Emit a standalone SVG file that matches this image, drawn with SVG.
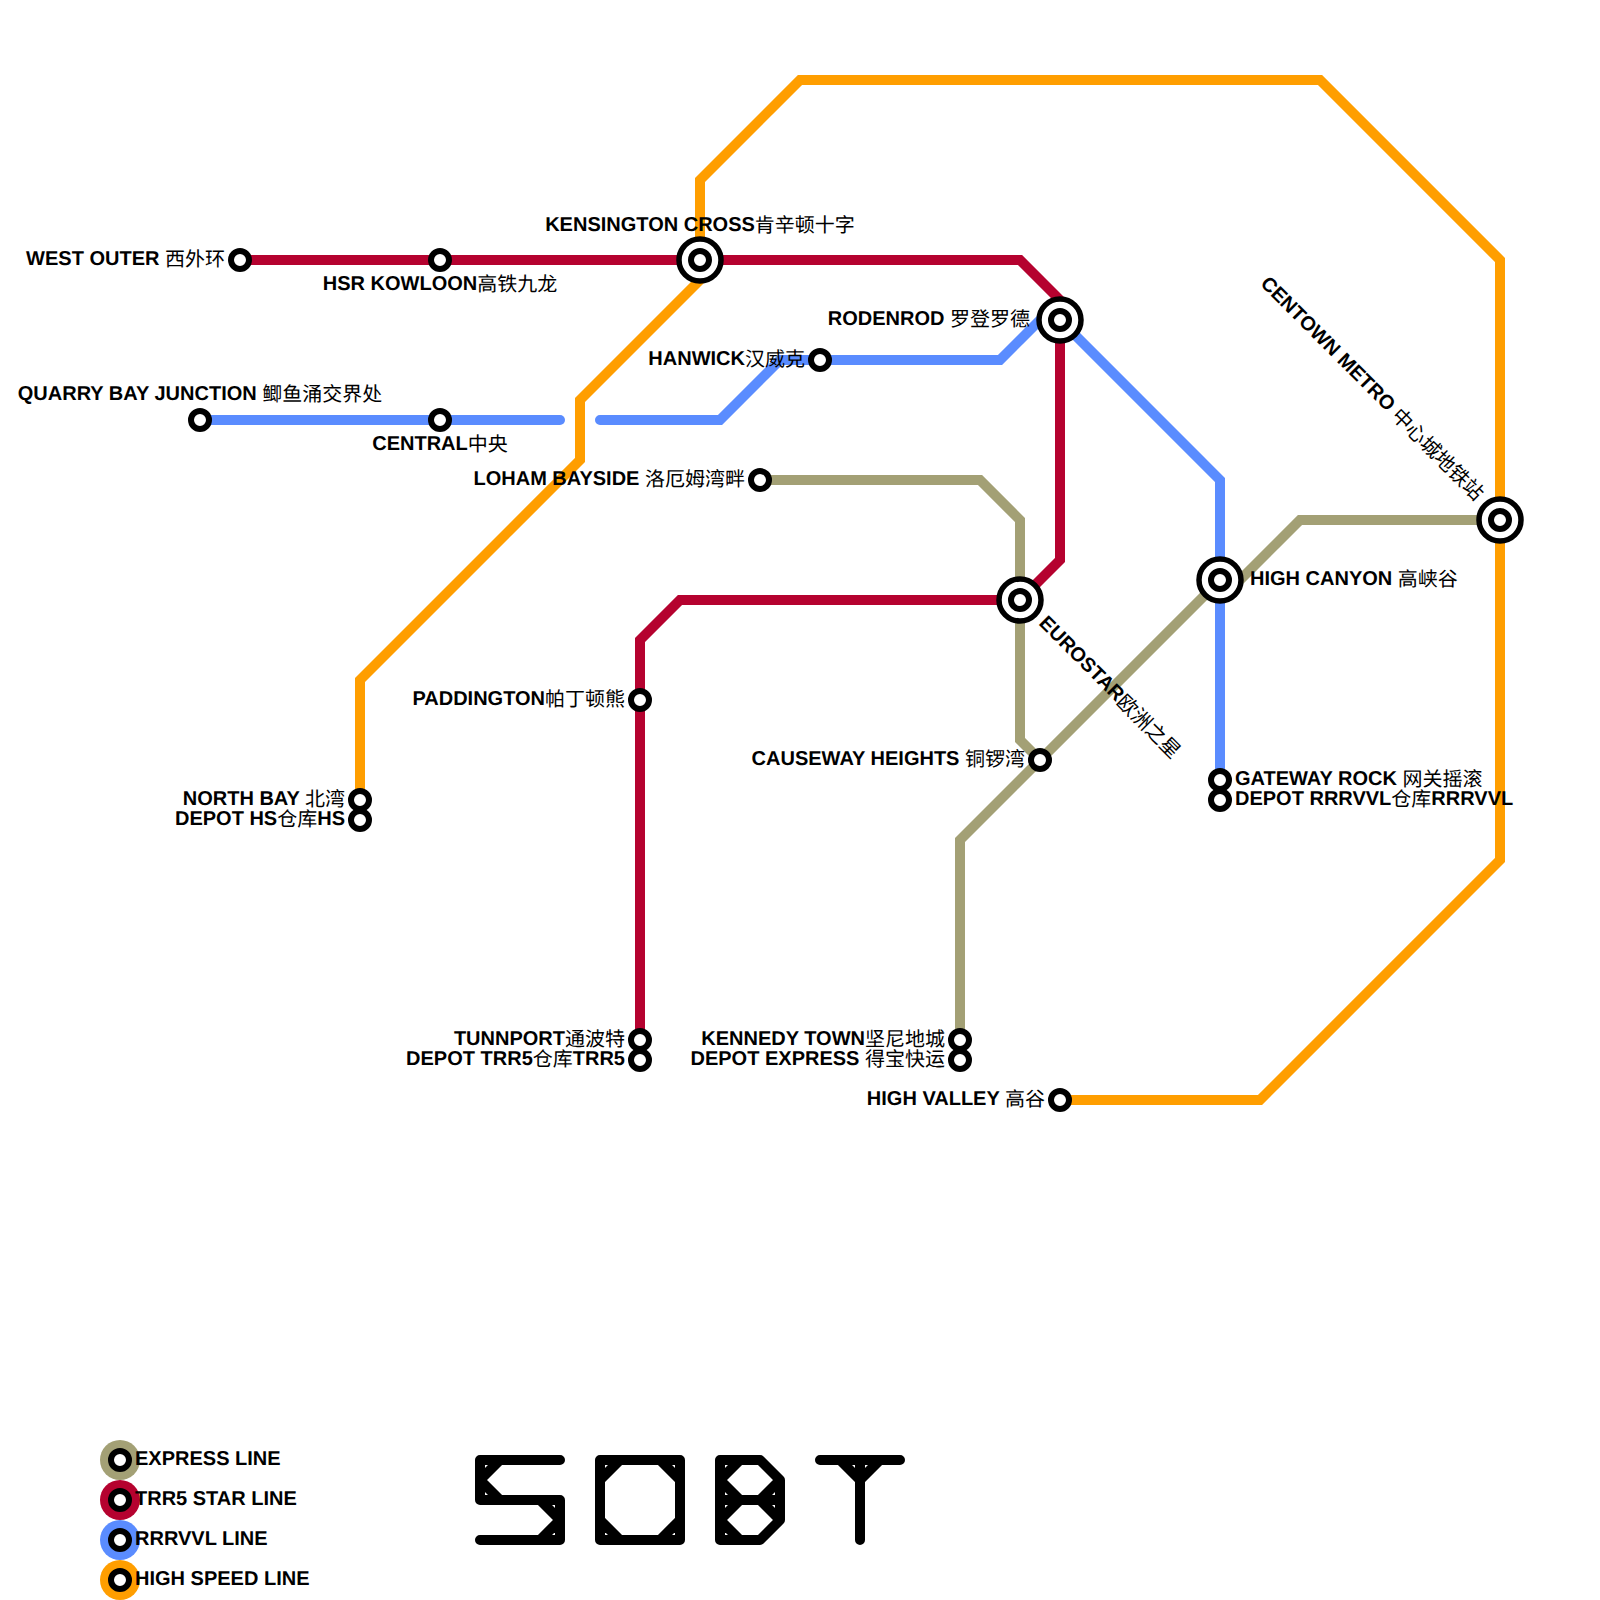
<svg xmlns="http://www.w3.org/2000/svg" width="1600" height="1600" viewBox="0 0 1600 1600">
<style>
text{font-family:"Liberation Sans","Noto Sans CJK SC",sans-serif;font-size:20px;fill:#000;text-rendering:geometricPrecision}
.b{font-weight:700}
.z{font-family:"Noto Sans CJK SC",sans-serif;font-weight:400;baseline-shift:-1px}
.e{text-anchor:end}.m{text-anchor:middle}
.l{fill:none;stroke-width:10;stroke-linecap:round;stroke-linejoin:miter}
.ex{stroke:#a3a075}.tr{stroke:#b5022f}.rr{stroke:#5a8cff}.hs{stroke:#ff9e00}
.s{fill:#fff;stroke:#000;stroke-width:6}
.o{fill:#fff;stroke:#000;stroke-width:5.5}
.g{fill:none;stroke:#000;stroke-width:10;stroke-linecap:round;stroke-linejoin:round}
</style>
<defs>
<g id="st"><circle class="s" r="9"/></g>
<g id="ic"><circle class="o" r="21"/><circle class="s" r="9"/></g>
</defs>
<g id="connectors">
<polyline class="l hs" points="360,800 360,680 580,460 580,400 700,280 700,180 800,80 1320,80 1500,260 1500,860 1260,1100 1060,1100"/>
<polyline class="l tr" points="240,260 1020,260 1060,300 1060,560 1020,600 680,600 640,640 640,1060"/>
<polyline class="l rr" points="200,420 560,420"/>
<polyline class="l rr" points="600,420 720,420 780,360 1000,360 1040,320 1060,320 1220,480 1220,800"/>
<polyline class="l ex" points="760,480 980,480 1020,520 1020,740 1040,760"/>
<polyline class="l ex" points="960,1060 960,840 1220,580 1240,580 1300,520 1500,520"/>
</g>
<g id="west-outer"><use href="#st" x="240" y="260"/><text class="e" x="225" y="265"><tspan class="b">WEST OUTER </tspan><tspan class="z">西外环</tspan></text></g>
<g id="hsr-kowloon"><use href="#st" x="440" y="260"/><text class="m" x="440" y="290"><tspan class="b">HSR KOWLOON</tspan><tspan class="z">高铁九龙</tspan></text></g>
<g id="kensington-cross"><use href="#ic" x="700" y="260"/><text class="m" x="700" y="231"><tspan class="b">KENSINGTON CROSS</tspan><tspan class="z">肯辛顿十字</tspan></text></g>
<g id="rodenrod"><use href="#ic" x="1060" y="320"/><text class="e" x="1030" y="325"><tspan class="b">RODENROD </tspan><tspan class="z">罗登罗德</tspan></text></g>
<g id="hanwick"><use href="#st" x="820" y="360"/><text class="e" x="805" y="365"><tspan class="b">HANWICK</tspan><tspan class="z">汉威克</tspan></text></g>
<g id="quarry-bay"><use href="#st" x="200" y="420"/><text class="m" x="200" y="400"><tspan class="b">QUARRY BAY JUNCTION </tspan><tspan class="z">鲫鱼涌交界处</tspan></text></g>
<g id="central"><use href="#st" x="440" y="420"/><text class="m" x="440" y="450"><tspan class="b">CENTRAL</tspan><tspan class="z">中央</tspan></text></g>
<g id="loham-bayside"><use href="#st" x="760" y="480"/><text class="e" x="745" y="485"><tspan class="b">LOHAM BAYSIDE </tspan><tspan class="z">洛厄姆湾畔</tspan></text></g>
<g id="centown-metro"><use href="#ic" x="1500" y="520"/><text class="e" transform="translate(1476,501) rotate(45)"><tspan class="b">CENTOWN METRO </tspan><tspan class="z">中心城地铁站</tspan></text></g>
<g id="high-canyon"><use href="#ic" x="1220" y="580"/><text x="1250" y="585"><tspan class="b">HIGH CANYON </tspan><tspan class="z">高峡谷</tspan></text></g>
<g id="eurostar"><use href="#ic" x="1020" y="600"/><text transform="translate(1038,624) rotate(45)"><tspan class="b">EUROSTAR</tspan><tspan class="z">欧洲之星</tspan></text></g>
<g id="paddington"><use href="#st" x="640" y="700"/><text class="e" x="625" y="705"><tspan class="b">PADDINGTON</tspan><tspan class="z">帕丁顿熊</tspan></text></g>
<g id="causeway-heights"><use href="#st" x="1040" y="760"/><text class="e" x="1025" y="765"><tspan class="b">CAUSEWAY HEIGHTS </tspan><tspan class="z">铜锣湾</tspan></text></g>
<g id="gateway-rock"><use href="#st" x="1220" y="780"/><text x="1235" y="785"><tspan class="b">GATEWAY ROCK </tspan><tspan class="z">网关摇滚</tspan></text></g>
<g id="depot-rrrvvl"><use href="#st" x="1220" y="800"/><text x="1235" y="805"><tspan class="b">DEPOT RRRVVL</tspan><tspan class="z">仓库</tspan><tspan class="b">RRRVVL</tspan></text></g>
<g id="north-bay"><use href="#st" x="360" y="800"/><text class="e" x="345" y="805"><tspan class="b">NORTH BAY </tspan><tspan class="z">北湾</tspan></text></g>
<g id="depot-hs"><use href="#st" x="360" y="820"/><text class="e" x="345" y="825"><tspan class="b">DEPOT HS</tspan><tspan class="z">仓库</tspan><tspan class="b">HS</tspan></text></g>
<g id="tunnport"><use href="#st" x="640" y="1040"/><text class="e" x="625" y="1045"><tspan class="b">TUNNPORT</tspan><tspan class="z">通波特</tspan></text></g>
<g id="depot-trr5"><use href="#st" x="640" y="1060"/><text class="e" x="625" y="1065"><tspan class="b">DEPOT TRR5</tspan><tspan class="z">仓库</tspan><tspan class="b">TRR5</tspan></text></g>
<g id="kennedy-town"><use href="#st" x="960" y="1040"/><text class="e" x="945" y="1045"><tspan class="b">KENNEDY TOWN</tspan><tspan class="z">坚尼地城</tspan></text></g>
<g id="depot-express"><use href="#st" x="960" y="1060"/><text class="e" x="945" y="1065"><tspan class="b">DEPOT EXPRESS </tspan><tspan class="z">得宝快运</tspan></text></g>
<g id="high-valley"><use href="#st" x="1060" y="1100"/><text class="e" x="1045" y="1105"><tspan class="b">HIGH VALLEY </tspan><tspan class="z">高谷</tspan></text></g>
<g id="legend">
<circle cx="120" cy="1460" r="20" fill="#a3a075"/><use href="#st" x="120" y="1460"/><text class="b" x="135" y="1465">EXPRESS LINE</text>
<circle cx="120" cy="1500" r="20" fill="#b5022f"/><use href="#st" x="120" y="1500"/><text class="b" x="135" y="1505">TRR5 STAR LINE</text>
<circle cx="120" cy="1540" r="20" fill="#5a8cff"/><use href="#st" x="120" y="1540"/><text class="b" x="135" y="1545">RRRVVL LINE</text>
<circle cx="120" cy="1580" r="20" fill="#ff9e00"/><use href="#st" x="120" y="1580"/><text class="b" x="135" y="1585">HIGH SPEED LINE</text>
</g>
<g id="logo">
<path class="g" d="M560 1460H480V1500H560V1540H480M500 1460L480 1480L500 1500M540 1500L560 1520L540 1540"/>
<path class="g" d="M600 1460H680V1540H600ZM620 1460L600 1480M660 1460L680 1480M600 1520L620 1540M680 1520L660 1540"/>
<path class="g" d="M720 1460H760L780 1480V1520L760 1540H720ZM720 1500H780M740 1460L720 1480L740 1500L720 1520L740 1540M760 1460L780 1480L760 1500L780 1520L760 1540"/>
<path class="g" d="M820 1460H900M860 1460V1540M840 1460L860 1480L880 1460"/>
</g>
</svg>
